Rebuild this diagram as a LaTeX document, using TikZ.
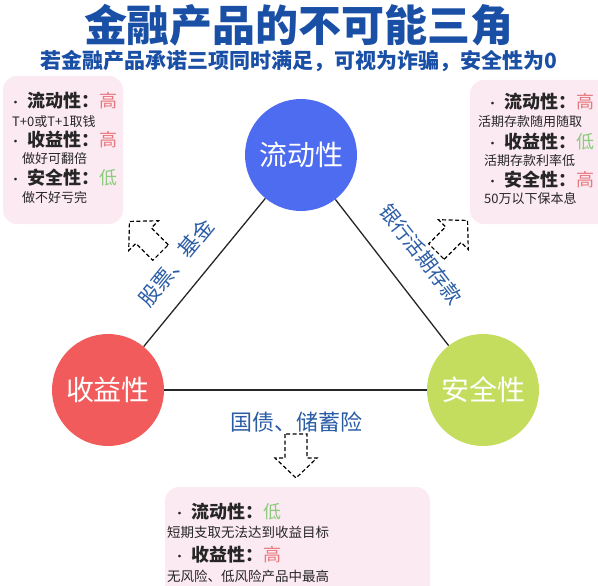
\documentclass[tikz,border=0pt]{standalone}
\usepackage{fontspec}
\setmainfont{Noto Sans CJK SC}
\usetikzlibrary{positioning}
\definecolor{TitleBlue}{HTML}{1A4FA6}
\definecolor{LabelBlue}{HTML}{2A5CA6}
\definecolor{LiqBlue}{HTML}{4E6CEF}
\definecolor{RetRed}{HTML}{F25B5B}
\definecolor{SafeGreen}{HTML}{C5DD5E}
\definecolor{BoxPink}{HTML}{FCEAF2}
\definecolor{HighRed}{HTML}{E8777E}
\definecolor{LowGreen}{HTML}{8CCB7E}
\newcommand{\hollowarrow}[2]{%
  \draw[hollow,shift={#1},rotate=#2] (-22,11) -- (2,11) -- (2,21) -- (22,0)
    -- (2,-21) -- (2,-11) -- (-22,-11) -- cycle;}
\newcommand{\hi}{{\mdseries\color{HighRed}高}}
\newcommand{\lo}{{\mdseries\color{LowGreen}低}}
\newcommand{\pt}{{\mdseries\fontsize{13}{13}\selectfont·}\hspace{5pt}}

\begin{document}
\begin{tikzpicture}[x=1pt,y=-1pt,
  circ/.style={circle,minimum size=112pt,inner sep=0pt,text=white,font=\fontsize{28}{30}\selectfont},
  edge/.style={line width=1.3pt,black!85},
  lab/.style={text=LabelBlue,inner sep=0pt,font=\fontsize{21}{23}\selectfont},
  box/.style={fill=BoxPink,rounded corners=14pt},
  item/.style={anchor=west,inner sep=0pt,text=black!85,font=\fontsize{18}{20}\selectfont\bfseries},
  note/.style={anchor=west,inner sep=0pt,text=black!85,font=\fontsize{13}{15}\selectfont},
  hollow/.style={line width=1.2pt,dash pattern=on 4pt off 2.5pt}]
\useasboundingbox (0,0) rectangle (598,586);
\clip (0,0) rectangle (598,586);
% title
\node[font=\fontsize{43}{45}\selectfont\bfseries,text=TitleBlue] (title) at (299,25) {金融产品的不可能三角};
\node[font=\fontsize{21}{23}\selectfont\bfseries,text=TitleBlue] (subtitle) at (299,61) {若金融产品承诺三项同时满足，可视为诈骗，安全性为0};
% side boxes
\fill[box] (3,76) rectangle (123,224);
\node[item] (l1) at (9,101) {\pt 流动性：\hi};
\node[note] (l1n) at (12,122) {T+0或T+1取钱};
\node[item] (l2) at (9,140) {\pt 收益性：\hi};
\node[note] (l2n) at (22,159) {做好可翻倍};
\node[item] (l3) at (9,178) {\pt 安全性：\lo};
\node[note] (l3n) at (22,198) {做不好亏完};
\fill[box] (470,80) rectangle (612,224);
\node[item] (r1) at (486,102) {\pt 流动性：\hi};
\node[note] (r1n) at (478,122) {活期存款随用随取};
\node[item] (r2) at (486,142) {\pt 收益性：\lo};
\node[note] (r2n) at (484,161) {活期存款利率低};
\node[item] (r3) at (486,180) {\pt 安全性：\hi};
\node[note] (r3n) at (484,199) {50万以下保本息};
\fill[box] (165,487) rectangle (430,600);
\node[item] (b1) at (173,512) {\pt 流动性：\lo};
\node[note,font=\fontsize{13.5}{15}\selectfont] (b1n) at (167,532) {短期支取无法达到收益目标};
\node[item] (b2) at (173,555) {\pt 收益性：\hi};
\node[note,font=\fontsize{13.5}{15}\selectfont] (b2n) at (167,576) {无风险、低风险产品中最高};
% triangle
\node[circ,fill=LiqBlue] (liq) at (301,155) {流动性};
\node[circ,fill=RetRed] (ret) at (108,390) {收益性};
\node[circ,fill=SafeGreen] (safe) at (483,390) {安全性};
\draw[edge] (liq) -- (ret);
\draw[edge] (liq) -- (safe);
\draw[edge] (ret) -- (safe);
\node[lab,rotate=51] (stocks) at (176,263) {股票、基金};
\node[lab,rotate=-52,font=\fontsize{20}{22}\selectfont] (deposit) at (421,254) {银行活期存款};
\node[lab,font=\fontsize{22}{24}\selectfont] (bonds) at (296,422) {国债、储蓄险};
\hollowarrow{(145,237)}{135}
\hollowarrow{(452,236)}{45}
\hollowarrow{(296,456)}{-90}
\end{tikzpicture}
\end{document}
